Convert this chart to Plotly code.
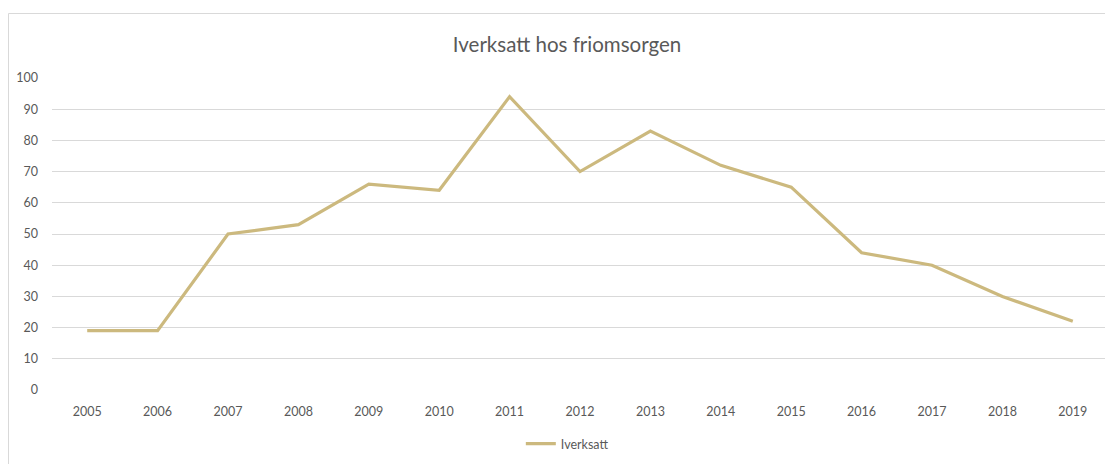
import plotly.graph_objects as go

years = ["2005", "2006", "2007", "2008", "2009", "2010", "2011", "2012",
         "2013", "2014", "2015", "2016", "2017", "2018", "2019"]
iverksatt = [19, 19, 50, 53, 66, 64, 94, 70, 83, 72, 65, 44, 40, 30, 22]
y_ticks = [0, 10, 20, 30, 40, 50, 60, 70, 80, 90, 100]

font = "Lato, 'Open Sans', sans-serif"
grey = "#595959"

# page body has an 8px margin, so the figure is drawn offset by (8, 8)
OFF = 8
W, H = 1113 - OFF, 464 - OFF
L, R, T, B = 52 - OFF, 5, 78 - OFF, 74
pw, ph = W - L - R, H - T - B
y0px = 390 - OFF  # pixel of value 0 in figure coords

fig = go.Figure()
fig.add_trace(go.Scatter(
    x=years, y=iverksatt, mode="lines", name="Iverksatt",
    line=dict(color="#CCB97E", width=3.2),
))

fig.update_layout(
    width=W, height=H,
    margin=dict(l=L, r=R, t=T, b=B),
    paper_bgcolor="white", plot_bgcolor="white",
    title=dict(text="Iverksatt hos friomsorgen", x=(567 - OFF) / W, xanchor="center",
               y=1 - (45 - OFF) / H, yanchor="middle",
               font=dict(family=font, size=20.5, color=grey)),
    xaxis=dict(type="category", showgrid=False, showline=False, ticks="",
               ticklabelstandoff=12,
               tickfont=dict(family=font, size=12.5, color=grey),
               range=[-0.5, len(years) - 0.5]),
    yaxis=dict(range=[0, 100], tickvals=y_ticks, showgrid=True,
               gridcolor="#D9D9D9", gridwidth=1, zeroline=False, showline=False,
               ticks="", ticklabelstandoff=13,
               tickfont=dict(family=font, size=12.5, color=grey)),
    showlegend=True,
    legend=dict(orientation="h", x=0.488, xanchor="center",
                y=(y0px - (444 - OFF)) / ph, yanchor="middle",
                font=dict(family=font, size=12.5, color=grey),
                itemwidth=30),
    shapes=[dict(type="rect", xref="paper", yref="paper",
                 x0=(0.5 - L) / pw, x1=(1120 - L) / pw,
                 y0=(y0px - 480) / ph, y1=(y0px - (13.5 - OFF)) / ph,
                 line=dict(color="#D9D9D9", width=1), fillcolor="rgba(0,0,0,0)",
                 layer="below")],
)

fig.write_html("out.html")
